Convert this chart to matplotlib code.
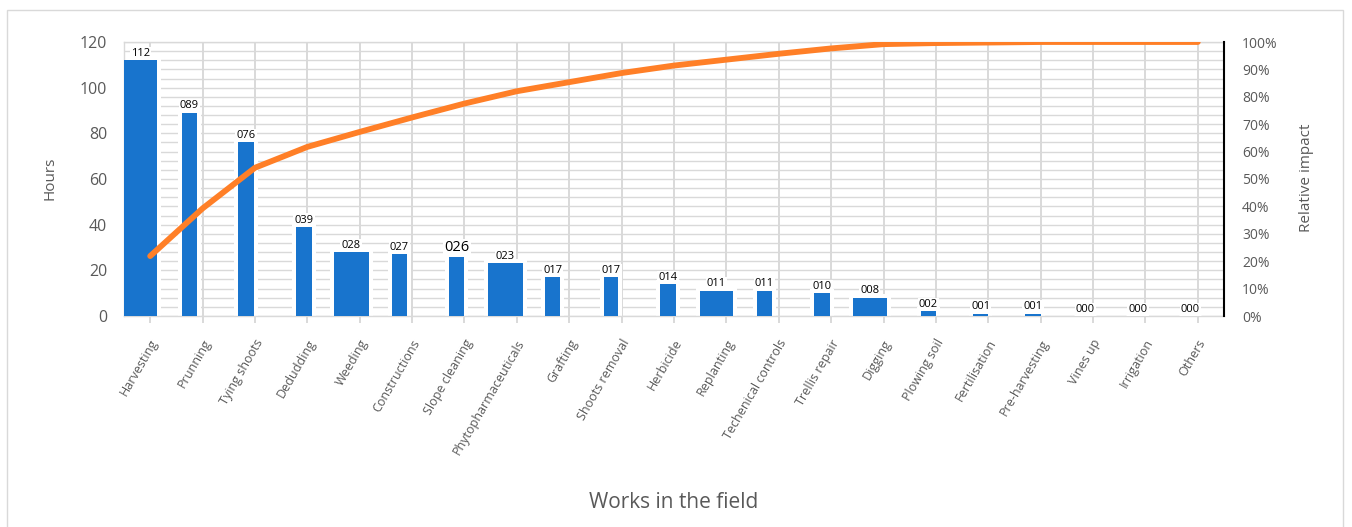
import numpy as np
import matplotlib
matplotlib.use("Agg")
import matplotlib.pyplot as plt
from matplotlib.patches import Rectangle
from matplotlib.ticker import PercentFormatter
from matplotlib.transforms import ScaledTranslation

# ---- data ----
works = ["Harvesting", "Prunning", "Tying shoots", "Dedudding", "Weeding",
         "Constructions", "Slope cleaning", "Phytopharmaceuticals", "Grafting",
         "Shoots removal", "Herbicide", "Replanting", "Techenical controls",
         "Trellis repair", "Digging", "Plowing soil", "Fertilisation",
         "Pre-harvesting", "Vines up", "Irrigation", "Others"]
hours = [112, 89, 76, 39, 28, 27, 26, 23, 17, 17, 14, 11, 11, 10, 8, 2, 1, 1, 0, 0, 0]
left_ticks = [0, 20, 40, 60, 80, 100, 120]
right_ticks = [0.0, 0.1, 0.2, 0.3, 0.4, 0.5, 0.6, 0.7, 0.8, 0.9, 1.0]

# ---- bar geometry (left / right edge relative to the category tick) ----
bar_lo = [-0.50, -0.40, -0.32, -0.21, -0.50, -0.39, -0.29, -0.55, -0.46, -0.34,
          -0.27, -0.51, -0.42, -0.32, -0.59, -0.29, -0.29, -0.29, -0.29, -0.29, -0.29]
bar_hi = [0.13, -0.11, -0.02, 0.08, 0.17, -0.10, 0.00, 0.11, -0.17, -0.06,
          0.04, 0.13, -0.13, -0.02, 0.06, 0.00, 0.00, 0.00, 0.00, 0.00, 0.00]
label_size = {6: 10.5}

BLUE = "#1874CD"
ORANGE = "#FF7F27"
GRID = "#D9D9D9"
TXT = "#595959"

plt.rcParams["font.family"] = ["Open Sans", "DejaVu Sans"]

W, H = 1352, 527
fig = plt.figure(figsize=(W / 100, H / 100), dpi=100)
ax = fig.add_axes([124 / W, 1 - 316 / H, 1100 / W, 274 / H])

x = np.arange(len(works))
lo = np.array(bar_lo)
hi = np.array(bar_hi)
h = np.array(hours, dtype=float)

# white halo around each bar, then the bar itself
gx = 4 / 52.5
gy = 4 * 120 / 274
ax.bar(x + lo - gx, h + gy, width=hi - lo + 2 * gx, align="edge",
       color="white", linewidth=0, zorder=2)
ax.bar(x + lo, h, width=hi - lo, align="edge", color=BLUE, linewidth=0, zorder=3)

for i, v in enumerate(hours):
    ax.annotate(f"{v:03d}", (x[i] + (lo[i] + hi[i]) / 2, v), xytext=(0, 1),
                textcoords="offset points", ha="center", va="bottom",
                fontsize=label_size.get(i, 8), color="black", zorder=4,
                bbox=dict(fc="white", ec="none", pad=0.8))

ax.set_xlim(-0.5, len(works) - 0.5)
ax.set_ylim(0, 120)
ax.set_yticks(left_ticks)
ax.set_yticks(np.arange(0, 121, 4), minor=True)
ax.set_axisbelow(True)
ax.grid(axis="y", which="both", color=GRID, lw=1.0)
ax.grid(axis="x", which="major", color=GRID, lw=1.4)
ax.tick_params(axis="y", which="both", length=0, labelsize=11.5,
               labelcolor=TXT, pad=12)
ax.set_xticks(x)
ax.set_xticklabels(works, rotation=60, ha="right", va="center",
                   rotation_mode="anchor")
ax.tick_params(axis="x", length=5, width=1.4, color=GRID, labelsize=9,
               labelcolor=TXT, pad=6)
shift = ScaledTranslation(5 / 100, -9 / 100, fig.dpi_scale_trans)
for lbl in ax.get_xticklabels():
    lbl.set_transform(lbl.get_transform() + shift)
for s in ("left", "top", "bottom"):
    ax.spines[s].set_color(GRID)
    ax.spines[s].set_linewidth(1.0)
ax.spines["right"].set_visible(False)

# cumulative share on the secondary axis
cum = np.cumsum(h) / h.sum()
ax2 = ax.twinx()
ax2.plot(x, cum, color=ORANGE, lw=4.2, solid_capstyle="round",
         solid_joinstyle="round", zorder=5)
ax2.set_ylim(0, 1.0)
ax2.set_yticks(right_ticks)
ax2.yaxis.set_major_formatter(PercentFormatter(1.0, decimals=0))
ax2.tick_params(axis="y", length=0, labelsize=10, labelcolor=TXT, pad=13)
for s in ("left", "top", "bottom"):
    ax2.spines[s].set_visible(False)
ax2.spines["right"].set_color("black")
ax2.spines["right"].set_linewidth(1.5)

fig.text(50 / W, 1 - 178 / H, "Hours", rotation=90, ha="center", va="center",
         fontsize=11, color=TXT)
fig.text(1307 / W, 1 - 178 / H, "Relative impact", rotation=90, ha="center",
         va="center", fontsize=11, color=TXT)
fig.text(674 / W, 1 - 502 / H, "Works in the field", ha="center", va="center",
         fontsize=15, color=TXT)

fig.add_artist(Rectangle((7 / W, -0.05), (1343 - 7) / W, 1 - 10 / H + 0.05,
                         transform=fig.transFigure, fill=False, ec=GRID, lw=1.0))

fig.savefig("out.png", dpi=100, facecolor="white")
